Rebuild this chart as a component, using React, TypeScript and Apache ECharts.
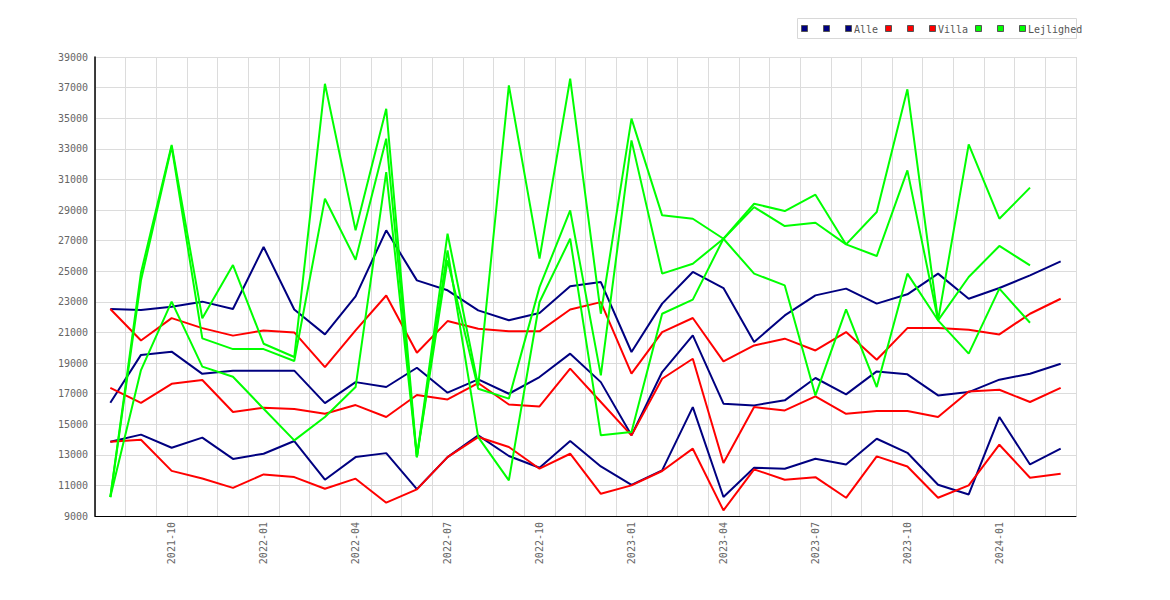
import React, { useEffect, useRef } from "react";
import * as echarts from "echarts";

const months = [
  "2021-08", "2021-09", "2021-10", "2021-11", "2021-12",
  "2022-01", "2022-02", "2022-03", "2022-04", "2022-05", "2022-06",
  "2022-07", "2022-08", "2022-09", "2022-10", "2022-11", "2022-12",
  "2023-01", "2023-02", "2023-03", "2023-04", "2023-05", "2023-06",
  "2023-07", "2023-08", "2023-09", "2023-10", "2023-11", "2023-12",
  "2024-01", "2024-02", "2024-03",
];

const yTicks = [9000, 39000, 2000];

const alleHigh = [22530, 22460, 22680, 23010, 22530, 26580, 22500, 20870, 23355, 27670, 24400, 23750, 22440, 21790, 22270, 24010, 24290, 19720, 22880, 24950, 23900, 20370, 22110, 23420, 23860, 22880, 23490, 24840, 23200, 23900, 24730, 25640];
const alleMid = [16400, 19530, 19740, 18290, 18500, 18500, 18500, 16380, 17750, 17430, 18690, 17060, 17930, 16990, 18080, 19610, 17750, 14270, 18410, 20810, 16340, 16230, 16560, 18020, 16950, 18450, 18260, 16880, 17100, 17910, 18300, 18950];
const alleLow = [13850, 14320, 13460, 14120, 12730, 13070, 13900, 11370, 12850, 13110, 10760, 12850, 14270, 12920, 12150, 13900, 12240, 11040, 11980, 16120, 10240, 12150, 12090, 12740, 12370, 14050, 13130, 11040, 10410, 15470, 12370, 13400];

const villaHigh = [22530, 20470, 21930, 21280, 20790, 21130, 21000, 18735, 21130, 23410, 19670, 21740, 21240, 21070, 21070, 22500, 22980, 18300, 21020, 21940, 19110, 20150, 20590, 19820, 21020, 19210, 21280, 21280, 21180, 20870, 22220, 23200];
const villaMid = [17380, 16400, 17640, 17890, 15800, 16080, 15990, 15680, 16250, 15470, 16910, 16620, 17690, 16290, 16160, 18630, 16450, 14270, 17970, 19280, 12460, 16120, 15900, 16820, 15680, 15860, 15860, 15470, 17140, 17250, 16450, 17380];
const villaLow = [13850, 13980, 11950, 11450, 10840, 11720, 11545, 10780, 11440, 9870, 10740, 12850, 14160, 13510, 12090, 13070, 10450, 11000, 11940, 13400, 9370, 12050, 11370, 11540, 10190, 12900, 12240, 10190, 11000, 13660, 11500, 11760];

const lejHigh = [10240, 24900, 33250, 21920, 25400, 20260, 19390, 37250, 27670, 35620, 12850, 27450, 17500, 37150, 25820, 37580, 22220, 34970, 28650, 28430, 27120, 29410, 28930, 30000, 26750, 28870, 36890, 21790, 33290, 28430, 30460, null];
const lejMid = [10240, 24400, 33150, 20610, 19910, 19910, 19130, 29740, 25750, 33660, 12850, 25710, 17320, 16670, 23960, 28970, 18190, 33550, 24840, 25490, 27120, 29190, 27950, 28170, 26750, 25990, 31590, 21790, 24620, 26650, 25380, null];
const lejLow = [10240, 18540, 23010, 18760, 18100, 16010, 13940, 15470, 17430, 31480, 12850, 26360, 14160, 11330, 22985, 27120, 14270, 14490, 22220, 23140, 27120, 24840, 24070, 16880, 22500, 17430, 24840, 21790, 19610, 23860, 21630, null];

const groupNames = ["Alle", "Villa", "Lejlighed"];
const groupColors = ["#000080", "#ff0000", "#00ff00"];
const groupData = [
  [alleHigh, alleMid, alleLow],
  [villaHigh, villaMid, villaLow],
  [lejHigh, lejMid, lejLow],
];

const FONT = "'DejaVu Sans Mono', monospace";

export default function App() {
  const ref = useRef<HTMLDivElement>(null);

  useEffect(() => {
    if (!ref.current) return;
    const chart = echarts.init(ref.current, undefined, { renderer: "svg" });

    const series: any[] = [];
    groupData.forEach((lines, g) => {
      lines.forEach((d, k) => {
        series.push({
          name: groupNames[g] + (k === 2 ? "" : "_" + k),
          type: "line",
          data: d,
          showSymbol: false,
          symbol: "none",
          connectNulls: false,
          lineStyle: { color: groupColors[g], width: 2 },
          itemStyle: { color: groupColors[g] },
        });
      });
    });

    // legend drawn as graphic elements
    const legendIconX = [801, 823, 845, 885, 907, 929, 975, 997, 1019];
    const legendTextX = [854, 938, 1028];
    const legendEls: any[] = [
      {
        type: "rect",
        shape: { x: 797.5, y: 18.5, width: 279, height: 20 },
        style: { fill: "#fff", stroke: "#d8d8d8", lineWidth: 1 },
      },
    ];
    legendIconX.forEach((x, i) => {
      legendEls.push({
        type: "rect",
        shape: { x: x + 0.5, y: 25.5, width: 6, height: 6 },
        style: { fill: groupColors[Math.floor(i / 3)], stroke: "#555", lineWidth: 1 },
      });
    });
    legendTextX.forEach((x, i) => {
      legendEls.push({
        type: "text",
        x,
        y: 29,
        style: {
          text: groupNames[i],
          fill: "#555",
          font: "10px " + FONT,
          verticalAlign: "middle",
        },
      });
    });

    chart.setOption({
      animation: false,
      backgroundColor: "#fff",
      grid: { left: 95, right: 94, top: 57, bottom: 84, containLabel: false },
      xAxis: {
        type: "category",
        data: months,
        boundaryGap: true,
        axisLine: { show: true, lineStyle: { color: "#000", width: 1 } },
        axisTick: { show: false },
        axisLabel: {
          interval: (index: number) => index % 3 === 2,
          rotate: 90,
          margin: 6,
          color: "#666",
          fontFamily: FONT,
          fontSize: 10,
        },
        splitLine: { show: true, interval: 0, lineStyle: { color: "#dcdcdc", width: 1 } },
      },
      yAxis: {
        type: "value",
        min: yTicks[0],
        max: yTicks[1],
        interval: yTicks[2],
        axisLine: { show: true, lineStyle: { color: "#000", width: 1.5 } },
        axisTick: { show: false },
        axisLabel: {
          color: "#666",
          fontFamily: FONT,
          fontSize: 10,
          margin: 7,
          formatter: (v: number) => String(v),
        },
        splitLine: { show: true, lineStyle: { color: "#dcdcdc", width: 1 } },
      },
      graphic: legendEls,
      series,
    });

    return () => chart.dispose();
  }, []);

  return (
    <div
      ref={ref}
      style={{ position: "absolute", left: 0, top: 0, width: 1170, height: 600 }}
    />
  );
}
